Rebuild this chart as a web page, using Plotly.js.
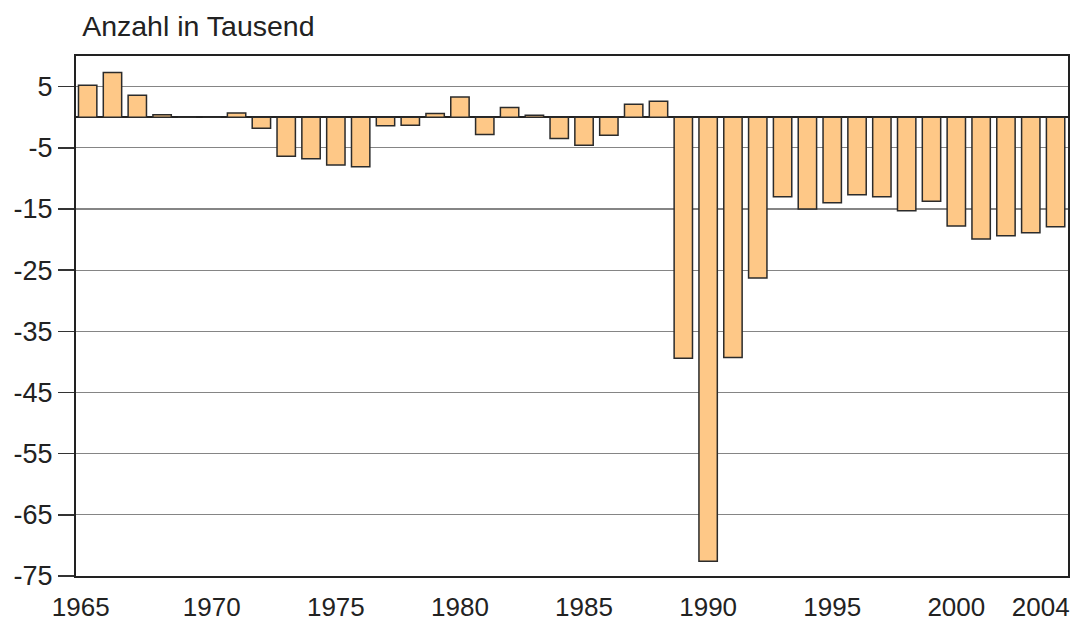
<!DOCTYPE html>
<html>
<head>
<meta charset="utf-8">
<script src="https://cdn.plot.ly/plotly-3.0.1.min.js"></script>
<style>html,body{margin:0;padding:0;background:#fff;} #chart{width:1081px;height:623px;}</style>
</head>
<body>
<div id="chart"></div>
<script>
const years = [1965,1966,1967,1968,1969,1970,1971,1972,1973,1974,1975,1976,1977,1978,1979,1980,1981,1982,1983,1984,1985,1986,1987,1988,1989,1990,1991,1992,1993,1994,1995,1996,1997,1998,1999,2000,2001,2002,2003,2004];
const values = [5.2,7.3,3.6,0.4,0,0,0.7,-1.8,-6.4,-6.8,-7.8,-8.1,-1.4,-1.3,0.6,3.3,-2.85,1.6,0.3,-3.5,-4.6,-2.95,2.1,2.6,-39.4,-72.6,-39.3,-26.3,-13.0,-15.0,-14.0,-12.7,-13.0,-15.3,-13.75,-17.8,-19.9,-19.4,-18.9,-17.9];
const xTickVals = [1964.72,1970,1975,1980,1985,1990,1995,2000,2003.4];
const xTickText = ['1965','1970','1975','1980','1985','1990','1995','2000','2004'];
const yTickVals = [5,-5,-15,-25,-35,-45,-55,-65,-75];
const yTickText = ['5','-5','-15','-25','-35','-45','-55','-65','-75'];
const titleText = 'Anzahl in Tausend';

const trace = {
  type: 'bar',
  x: years,
  y: values,
  width: 0.74,
  marker: {color: '#FEC887', line: {color: '#2b2b2b', width: 1.5}},
  hoverinfo: 'x+y'
};

const layout = {
  width: 1081, height: 623,
  margin: {l: 76, r: 13, t: 56, b: 47},
  paper_bgcolor: '#fff', plot_bgcolor: '#fff',
  showlegend: false,
  title: {text: titleText, xref: 'container', yref: 'container', x: 0.076, xanchor: 'left', y: 0.958, yanchor: 'middle',
          font: {family: 'Liberation Sans, Arial, sans-serif', size: 28.5, color: '#222'}},
  xaxis: {
    range: [1964.53, 2004.5],
    tickmode: 'array', tickvals: xTickVals, ticktext: xTickText,
    ticks: 'outside', ticklen: 7, tickcolor: 'rgba(0,0,0,0)', ticklabeloverflow: 'allow',
    showgrid: false, zeroline: false,
    showline: true, mirror: true, linecolor: '#222', linewidth: 2,
    tickfont: {family: 'Liberation Sans, Arial, sans-serif', size: 26, color: '#222'}
  },
  yaxis: {
    range: [-75, 10],
    tickmode: 'array', tickvals: yTickVals, ticktext: yTickText,
    ticks: 'outside', ticklen: 16, tickwidth: 1.5, tickcolor: '#333',
    showgrid: true, gridcolor: '#858585', gridwidth: 1.2,
    zeroline: true, zerolinecolor: '#222', zerolinewidth: 2.5,
    showline: true, mirror: true, linecolor: '#222', linewidth: 2,
    tickfont: {family: 'Liberation Sans, Arial, sans-serif', size: 27, color: '#222'}
  }
};

Plotly.newPlot('chart', [trace], layout, {displayModeBar: false, staticPlot: true});
</script>
</body>
</html>
